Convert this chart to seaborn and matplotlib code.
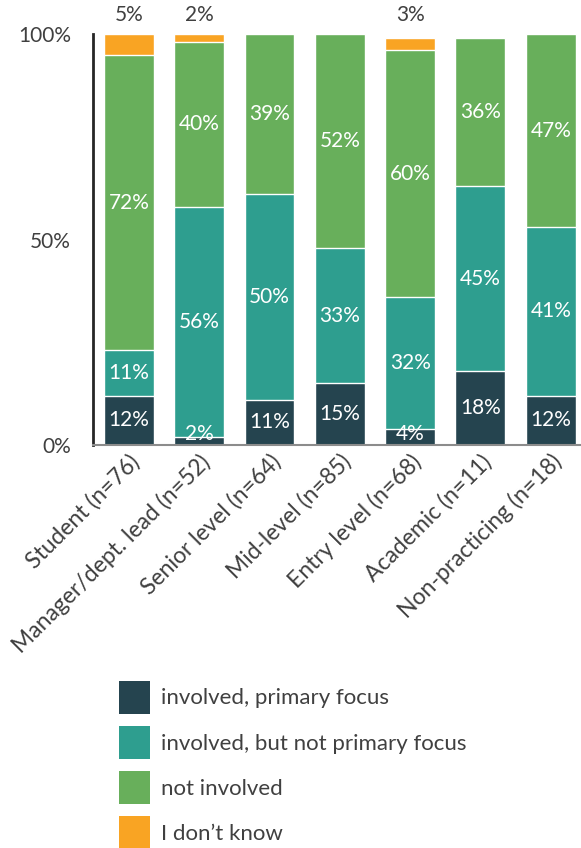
import numpy as np
import pandas as pd
import matplotlib
matplotlib.use("Agg")
import matplotlib.pyplot as plt
from matplotlib.patches import Patch
import seaborn as sns

# Survey responses by professional level (percent of respondents)
categories = [
    "Student (n=76)",
    "Manager/dept. lead (n=52)",
    "Senior level (n=64)",
    "Mid-level (n=85)",
    "Entry level (n=68)",
    "Academic (n=11)",
    "Non-practicing (n=18)",
]
primary_focus = [12, 2, 11, 15, 4, 18, 12]
not_primary = [11, 56, 50, 33, 32, 45, 41]
not_involved = [72, 40, 39, 52, 60, 36, 47]
dont_know = [5, 2, 0, 0, 3, 0, 0]

series_names = [
    "involved, primary focus",
    "involved, but not primary focus",
    "not involved",
    "I don\u2019t know",
]
colors = ["#25444F", "#2E9E8F", "#68AF5B", "#F9A423"]

sns.set_theme(style="white")
plt.rcParams["font.family"] = ["Lato", "DejaVu Sans"]

df = pd.DataFrame({
    "category": categories,
    series_names[0]: primary_focus,
    series_names[1]: not_primary,
    series_names[2]: not_involved,
    series_names[3]: dont_know,
})
values = df[series_names].to_numpy(dtype=float)
cum = np.cumsum(values, axis=1)

fig = plt.figure(figsize=(5.81, 8.48), dpi=100)
ax = fig.add_axes([93 / 581, 1 - 445 / 848, 1 - 93 / 581, (445 - 34) / 848])

# Stacked bars: draw cumulative totals from the top layer down
for i in range(len(series_names) - 1, -1, -1):
    plot_df = pd.DataFrame({"category": categories, "total": cum[:, i]})
    sns.barplot(
        data=plot_df, x="category", y="total", color=colors[i],
        saturation=1, width=0.71, edgecolor="white", linewidth=1.0,
        ax=ax, errorbar=None,
    )

# Segment labels
for j in range(len(categories)):
    for i in range(3):
        v = values[j, i]
        if v <= 0:
            continue
        bottom = cum[j, i] - v
        y = max(bottom + v / 2, 2.7)
        ax.text(j, y, f"{int(v)}%", ha="center", va="center",
                color="white", fontsize=15)
    if values[j, 3] > 0:
        ax.text(j, 102.3, f"{int(values[j, 3])}%", ha="center", va="bottom",
                color="#404040", fontsize=15, clip_on=False)

ax.set_xlim(-0.51, 6.43)
ax.set_ylim(0, 100)
ax.set_yticks([0, 50, 100])
ax.set_yticklabels(["0%", "50%", "100%"], fontsize=15, color="#404040")
ax.set_xlabel("")
ax.set_ylabel("")
ax.set_xticks(range(len(categories)))
ax.set_xticklabels(categories, rotation=45, ha="right", rotation_mode="anchor",
                   fontsize=16.5, color="#404040")
ax.tick_params(axis="x", length=0, pad=4)
ax.tick_params(axis="y", length=0, pad=16)

for side in ["top", "right"]:
    ax.spines[side].set_visible(False)
ax.spines["left"].set_color("#262626")
ax.spines["left"].set_linewidth(2.0)
ax.spines["bottom"].set_color("#8C8C8C")
ax.spines["bottom"].set_linewidth(1.5)

handles = [Patch(facecolor=c, edgecolor="none") for c in colors]
fig.legend(
    handles, series_names, loc="upper left",
    bbox_to_anchor=(110 / 581, 1 - 672 / 848),
    frameon=False, fontsize=16, labelcolor="#404040",
    handlelength=1.4, handleheight=1.9, labelspacing=0.55,
    handletextpad=0.5, borderaxespad=0,
)

fig.savefig("out.png", dpi=100)
